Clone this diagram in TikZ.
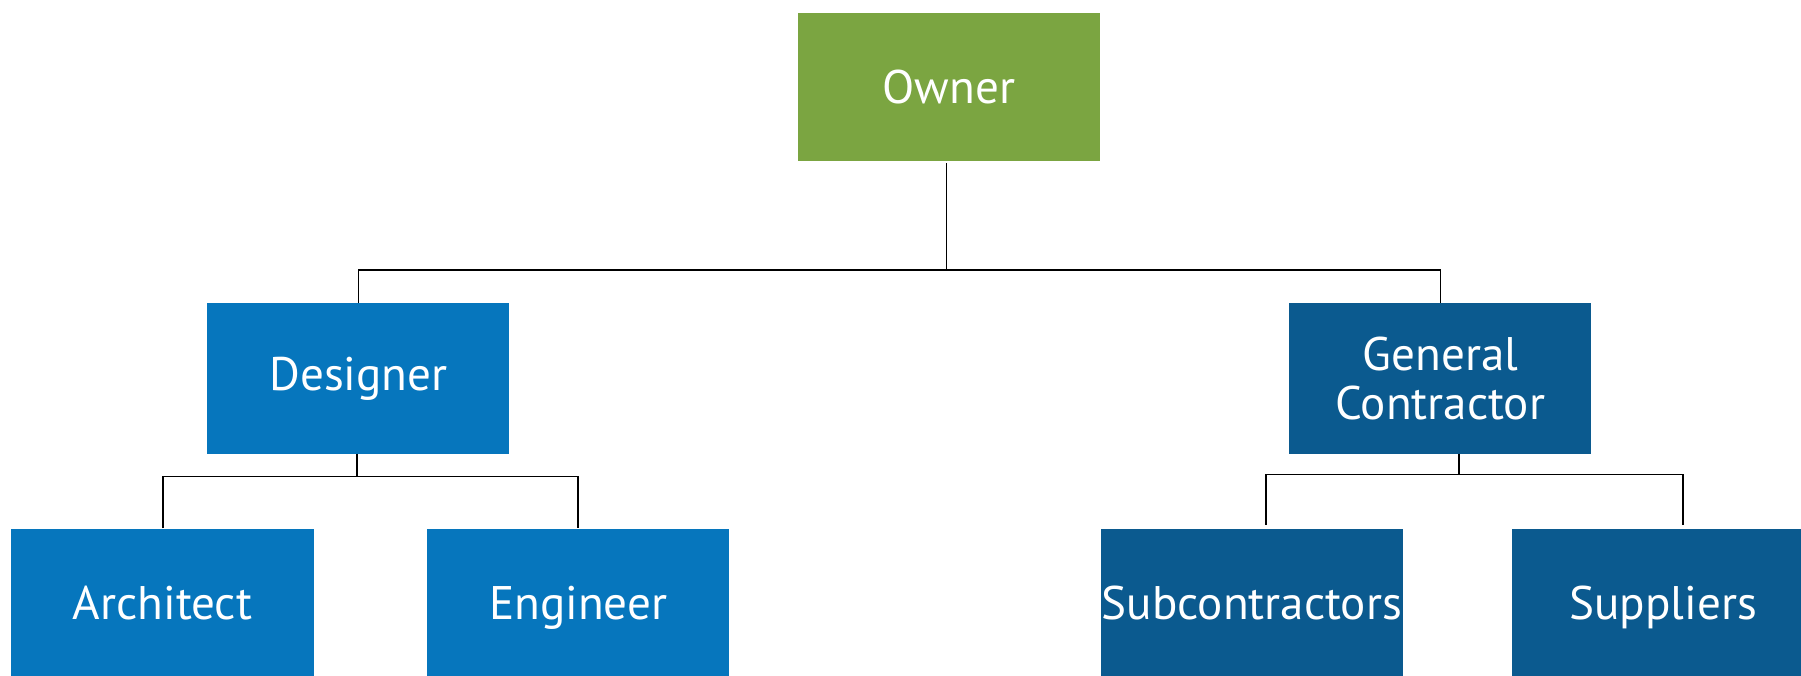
\documentclass[tikz,border=0pt]{standalone}
\usepackage{fontspec}
\setmainfont{PT Sans}
\definecolor{owng}{HTML}{7BA541}
\definecolor{desb}{HTML}{0676BD}
\definecolor{gcb}{HTML}{0B5A8F}
\begin{document}
\begin{tikzpicture}[x=1pt,y=-1pt,
  lbl/.style={text=white,font=\fontsize{41}{44}\selectfont,align=center},
  box/.style={minimum width=263pt,inner sep=0pt,lbl},
  link/.style={draw=black,line width=1.4pt}]
\useasboundingbox (0,0) rectangle (1568,588);
\node[box,fill=owng,minimum height=129pt] (own) at (826,75.5) {Owner};
\node[box,fill=desb,minimum height=131pt] (des) at (312,329.5) {Designer};
\node[box,fill=gcb,minimum height=131pt] (gc) at (1254,329.5) {General\\[-2pt]Contractor};
\node[box,fill=desb,minimum height=140pt,anchor=north] (arc) at (141.5,460) {};
\node[lbl,anchor=base] (arct) at (141.5,539) {Architect};
\node[box,fill=desb,minimum height=140pt,anchor=north] (eng) at (503.5,460) {};
\node[lbl,anchor=base] (engt) at (503.5,539) {Engineer};
\node[box,fill=gcb,minimum height=140pt,anchor=north] (sub) at (1090,460) {};
\node[lbl,anchor=base] (subt) at (1090,539) {Subcontractors};
\node[box,fill=gcb,minimum height=140pt,anchor=north] (sup) at (1448,460) {};
\node[lbl,anchor=base] (supt) at (1448,539) {Suppliers};
\coordinate (j1) at (824,235);
\coordinate (j2) at (311,415);
\coordinate (j3) at (1270,413);
\coordinate (e1) at (1102,457);
\coordinate (e2) at (1465,457);
\draw[link] (824,142) -- (j1);
\draw[link] (des.north) |- (j1) -| (gc.north);
\draw[link] (311,395) -- (j2);
\draw[link] (142,460) |- (j2) -| (503,460);
\draw[link] (1270,395) -- (j3);
\draw[link] (e1) |- (j3) -| (e2);
\end{tikzpicture}
\end{document}
